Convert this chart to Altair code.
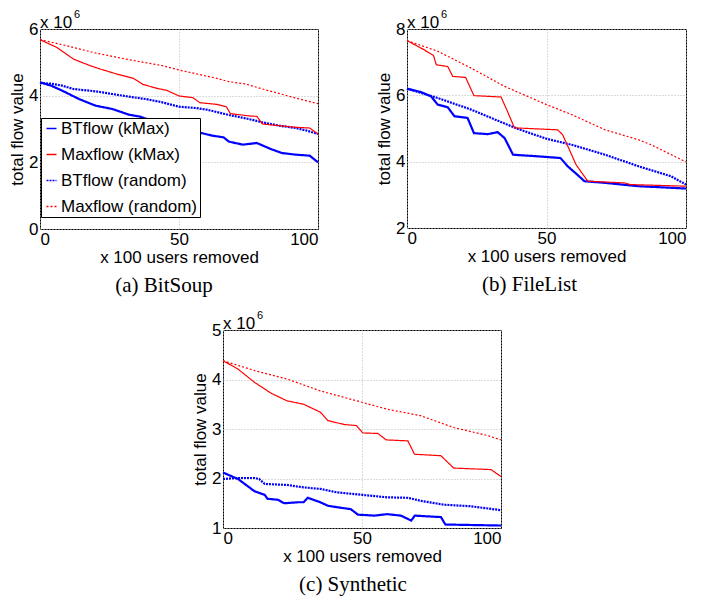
import altair as alt
import pandas as pd

# ---------------- data (values in units of 10^6) ----------------
SERIES = ["BTflow (kMax)", "Maxflow (kMax)", "BTflow (random)", "Maxflow (random)"]

# (a) BitSoup
a_btk_x = [0, 4, 8, 14, 20, 26, 32, 36, 42, 50, 57, 62, 66, 68, 73, 78, 83, 87, 92, 97, 100]
a_btk_y = [4.4, 4.3, 4.15, 3.9, 3.7, 3.6, 3.43, 3.37, 3.2, 3.05, 2.9, 2.8, 2.75, 2.62, 2.53, 2.58, 2.4, 2.28, 2.23, 2.2, 2.0]
a_mxk_x = [0, 6, 12, 18, 21.6, 27.6, 33.6, 37, 42, 45.6, 50, 55, 57.5, 63.5, 67, 68.5, 75.5, 78, 80, 92, 97, 100]
a_mxk_y = [5.68, 5.45, 5.10, 4.9, 4.8, 4.65, 4.52, 4.34, 4.22, 4.16, 3.99, 3.94, 3.79, 3.74, 3.67, 3.46, 3.39, 3.38, 3.15, 3.05, 3.03, 2.85]
a_btr_x = [0, 4, 8, 12, 20, 26, 32, 38, 44, 50, 56, 60, 68, 74, 80, 86, 92, 96, 100]
a_btr_y = [4.38, 4.36, 4.3, 4.2, 4.13, 4.05, 3.97, 3.9, 3.8, 3.67, 3.63, 3.58, 3.42, 3.32, 3.2, 3.1, 3.03, 2.95, 2.85]
a_mxr_x = [0, 8, 20, 32, 44, 50, 63, 68, 74, 80, 92, 100]
a_mxr_y = [5.68, 5.53, 5.28, 5.08, 4.9, 4.77, 4.53, 4.42, 4.35, 4.2, 3.93, 3.76]

# (b) FileList
b_btk_x = [0, 5, 8.6, 11, 14.6, 17, 21.7, 24, 29, 32.5, 35, 38, 47, 55, 57.6, 61, 63.6, 71, 83, 100]
b_btk_y = [6.2, 6.1, 5.97, 5.72, 5.64, 5.37, 5.32, 4.86, 4.83, 4.89, 4.71, 4.21, 4.16, 4.11, 3.86, 3.61, 3.41, 3.36, 3.26, 3.19]
b_mxk_x = [0, 6, 9.5, 10.5, 14.6, 16.4, 21, 24, 33.7, 36, 38.5, 54, 55.8, 60.6, 64.8, 78, 80, 100]
b_mxk_y = [7.65, 7.38, 7.2, 6.92, 6.87, 6.57, 6.54, 5.99, 5.95, 5.52, 5.02, 4.96, 4.81, 3.91, 3.41, 3.36, 3.31, 3.26]
b_btr_x = [0, 11, 23, 35, 40, 50, 59, 71, 83, 94.6, 100]
b_btr_y = [6.2, 5.92, 5.57, 5.15, 4.98, 4.69, 4.51, 4.21, 3.86, 3.56, 3.31]
b_mxr_x = [0, 11, 23, 35, 50, 59, 71, 83, 87.5, 100]
b_mxr_y = [7.65, 7.33, 6.82, 6.27, 5.72, 5.42, 4.96, 4.66, 4.51, 3.99]

# (c) Synthetic
c_btk_x = [0, 5.4, 11.4, 15, 16, 19.8, 22, 27, 29, 30.5, 35, 37.7, 41, 46, 48.5, 54.5, 59, 64, 67.7, 69, 78.4, 80, 100]
c_btk_y = [2.12, 1.99, 1.74, 1.67, 1.59, 1.57, 1.5, 1.52, 1.52, 1.61, 1.52, 1.45, 1.42, 1.38, 1.27, 1.25, 1.28, 1.25, 1.15, 1.25, 1.22, 1.07, 1.05]
c_mxk_x = [0, 5.4, 11.4, 17.4, 23, 29, 35, 37.7, 43.7, 48, 50.3, 55.7, 58.7, 66.5, 68.9, 78.4, 83, 96.4, 100]
c_mxk_y = [4.38, 4.21, 3.94, 3.72, 3.57, 3.5, 3.34, 3.17, 3.09, 3.07, 2.92, 2.91, 2.78, 2.76, 2.49, 2.46, 2.21, 2.18, 2.04]
c_btr_x = [0, 5.4, 11.4, 13, 15, 23, 29, 35, 41, 50, 59, 66.5, 71, 79.6, 89, 100]
c_btr_y = [1.99, 2.01, 2.01, 1.99, 1.89, 1.87, 1.82, 1.79, 1.72, 1.67, 1.62, 1.61, 1.55, 1.47, 1.44, 1.36]
c_mxr_x = [0, 11.4, 23, 35, 50, 59, 71, 83, 95, 100]
c_mxr_y = [4.38, 4.18, 4.01, 3.77, 3.54, 3.40, 3.27, 3.03, 2.87, 2.78]

X_TICKS = [0, 50, 100]
A_Y_TICKS = [0, 2, 4, 6]
B_Y_TICKS = [2, 4, 6, 8]
C_Y_TICKS = [1, 2, 3, 4, 5]

COLORS = ["#0000ff", "#ff0000", "#0000ff", "#ff0000"]
DASHES = [[1, 0], [1, 0], [2, 1], [2, 2]]
SANS = "Liberation Sans"
SERIF = "Liberation Serif"


def frame(pairs):
    rows = []
    for name, xs, ys in pairs:
        for xv, yv in zip(xs, ys):
            rows.append({"x": xv, "y": yv, "series": name})
    return pd.DataFrame(rows)


def panel(df, ydom, yticks, w, h, caption, dx, legend):
    if legend:
        leg = alt.Legend(title=None, orient="none", legendX=1, legendY=89,
                         fillColor="white", strokeColor="black", padding=2,
                         labelFont=SANS, labelFontSize=17, labelColor="black",
                         symbolType="stroke", symbolSize=100, symbolStrokeWidth=1.5,
                         rowPadding=8, labelOffset=1)
    else:
        leg = None
    x = alt.X("x:Q", scale=alt.Scale(domain=[0, 100], nice=False),
              axis=alt.Axis(values=X_TICKS, title="x 100 users removed", format="d"))
    y = alt.Y("y:Q", scale=alt.Scale(domain=ydom, nice=False, zero=False),
              axis=alt.Axis(values=yticks, title="total flow value", format="d"))
    col = alt.Color("series:N", scale=alt.Scale(domain=SERIES, range=COLORS), legend=leg)
    dash = alt.StrokeDash("series:N", scale=alt.Scale(domain=SERIES, range=DASHES), legend=leg)
    base = alt.Chart(df)
    blue = base.transform_filter(
        alt.FieldOneOfPredicate(field="series", oneOf=[SERIES[0], SERIES[2]])
    ).mark_line(strokeWidth=2.2).encode(x=x, y=y, color=col, strokeDash=dash)
    red = base.transform_filter(
        alt.FieldOneOfPredicate(field="series", oneOf=[SERIES[1], SERIES[3]])
    ).mark_line(strokeWidth=1.2).encode(x=x, y=y, color=col, strokeDash=dash)
    t1 = alt.Chart(pd.DataFrame({"t": ["x 10"]})).mark_text(
        align="left", baseline="alphabetic", font=SANS, fontSize=17, color="black"
    ).encode(x=alt.value(0), y=alt.value(-1), text="t:N")
    t2 = alt.Chart(pd.DataFrame({"t": ["6"]})).mark_text(
        align="left", baseline="alphabetic", font=SANS, fontSize=11, color="black"
    ).encode(x=alt.value(34), y=alt.value(-11), text="t:N")
    return alt.layer(blue, red, t1, t2).properties(
        width=w, height=h,
        title=alt.TitleParams(text=caption, orient="bottom", font=SERIF, fontSize=21,
                              fontWeight="normal", color="black", anchor="middle",
                              frame="group", offset=10, dx=dx),
    )


df_a = frame([(SERIES[0], a_btk_x, a_btk_y), (SERIES[1], a_mxk_x, a_mxk_y),
              (SERIES[2], a_btr_x, a_btr_y), (SERIES[3], a_mxr_x, a_mxr_y)])
df_b = frame([(SERIES[0], b_btk_x, b_btk_y), (SERIES[1], b_mxk_x, b_mxk_y),
              (SERIES[2], b_btr_x, b_btr_y), (SERIES[3], b_mxr_x, b_mxr_y)])
df_c = frame([(SERIES[0], c_btk_x, c_btk_y), (SERIES[1], c_mxk_x, c_mxk_y),
              (SERIES[2], c_btr_x, c_btr_y), (SERIES[3], c_mxr_x, c_mxr_y)])

pa = panel(df_a, [0, 6], A_Y_TICKS, 278, 200, "(a)  BitSoup", -15, True)
pb = panel(df_b, [2, 8], B_Y_TICKS, 279, 199, "(b)  FileList", -17, False)
pc = panel(df_c, [1, 5], C_Y_TICKS, 278, 198, "(c)  Synthetic", -9, False)

spacer = alt.Chart(pd.DataFrame({"v": [0]})).mark_point(opacity=0).encode(
    x=alt.X("v:Q", axis=None), y=alt.Y("v:Q", axis=None)
).properties(width=150, height=10, view=alt.ViewBackground(stroke="transparent"))

IND = dict(color="independent", strokeDash="independent", x="independent", y="independent")
LEG = dict(color="independent", strokeDash="independent")

top = alt.hconcat(pa, pb, spacing=52).resolve_scale(**IND).resolve_legend(**LEG)
bottom = alt.hconcat(spacer, pc, spacing=0).resolve_scale(**IND).resolve_legend(**LEG)

chart = alt.vconcat(top, bottom, spacing=12).resolve_scale(**IND).resolve_legend(**LEG).properties(
    padding={"left": 0, "top": 0, "right": 0, "bottom": 0}
).configure_view(stroke="black", strokeWidth=1).configure_axis(
    labelFont=SANS, labelFontSize=17, labelColor="black", labelPadding=2,
    titleFont=SANS, titleFontSize=17, titleFontWeight="normal", titleColor="black",
    grid=True, gridColor="#b8b8b8", gridDash=[1, 2], gridWidth=1,
    domain=False, ticks=False,
).configure_axisY(titlePadding=2).configure_axisX(titlePadding=2).configure_concat(spacing=0)

chart.save("out.html", embed_options={"renderer": "svg", "actions": False})
